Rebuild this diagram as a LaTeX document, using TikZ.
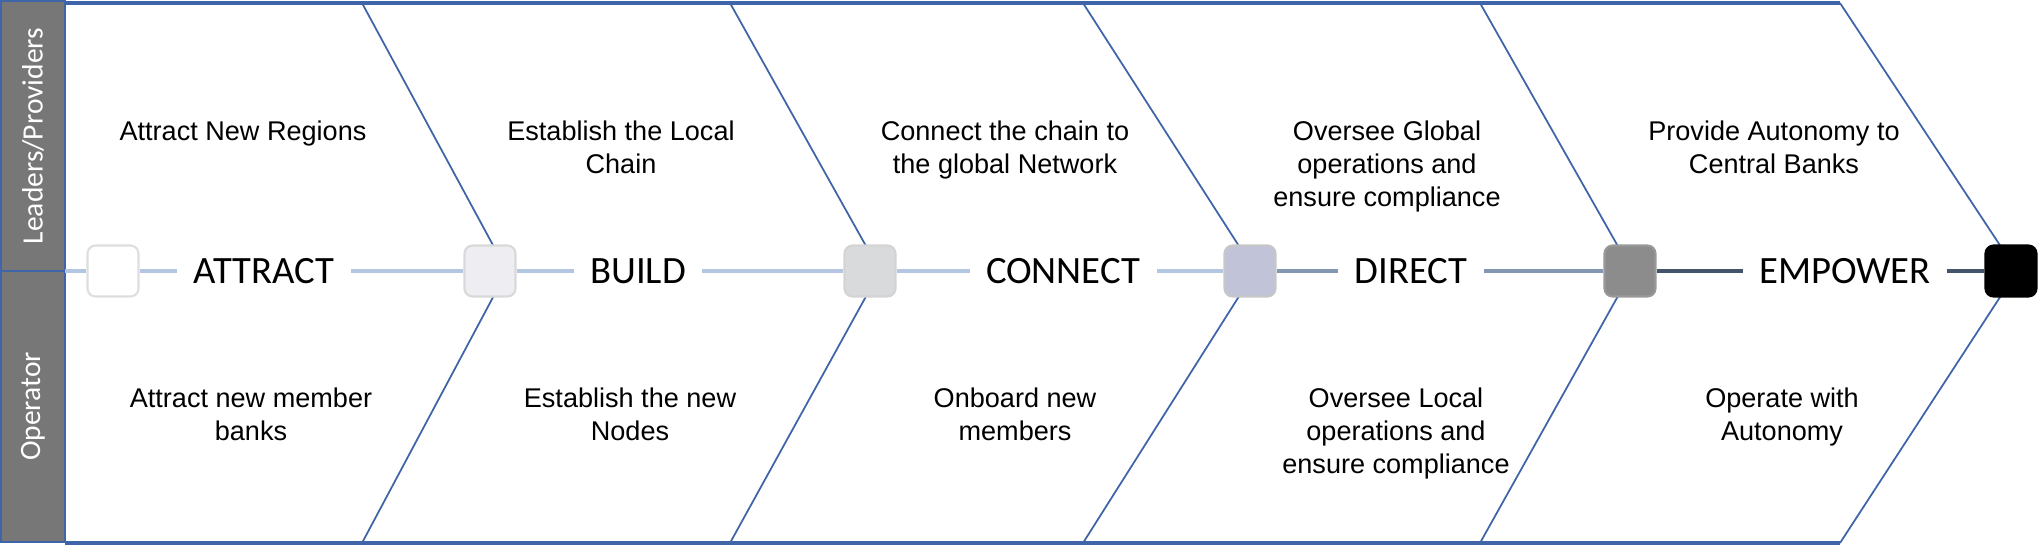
\documentclass[tikz,border=0pt]{standalone}
\usepackage{fontspec}
\setmainfont{Liberation Sans}
\newfontfamily\calibrifont{Carlito}
\definecolor{edgeblue}{HTML}{3F64A8}
\definecolor{lanegray}{HTML}{777777}
\definecolor{linklight}{HTML}{B4C6E2}
\definecolor{linkmid}{HTML}{8497B0}
\definecolor{linkdark}{HTML}{44546A}

\begin{document}
\begin{tikzpicture}[x=0.01cm, y=-0.01cm]
    \tikzstyle{lane} = [draw=edgeblue, fill=lanegray, line width=0.6pt, text=white, inner sep=0pt, font=\calibrifont\fontsize{8.4}{10}\selectfont];
    \tikzstyle{chev} = [draw=edgeblue, line width=0.5pt];
    \tikzstyle{milestone} = [rectangle, rounded corners=2.3pt, minimum size=0.51cm, line width=0.6pt];
    \tikzstyle{stage} = [inner xsep=4.5pt, inner ysep=0pt, font=\calibrifont\fontsize{11}{13}\selectfont];
    \tikzstyle{task} = [align=center, anchor=north, inner sep=0pt, font=\fontsize{7.7}{9.4}\selectfont];
    \tikzstyle{link} = [line width=1pt];

    \useasboundingbox (0,0) rectangle (2038,553);

    % side lanes
    \node[lane, rotate=90, minimum width=2.70cm, minimum height=0.64cm] (lead) at (33,136) {Leaders/Providers};
    \node[lane, rotate=90, minimum width=2.71cm, minimum height=0.64cm] (oper) at (33,406.5) {Operator};
    \coordinate (entry) at (65,271);

    % chevrons
    \draw[chev, line width=0.9pt] (65,3) -- (1840,3);
    \draw[chev, line width=0.9pt] (65,543) -- (1840,543);
    \foreach \n/\t in {362/507, 730/880, 1083/1255, 1480/1632, 1840/2017}
        \draw[chev] (\n,3) -- (\t,271) -- (\n,543);

    % milestones
    \node[milestone, fill=white, draw=black!13] (m1) at (113,271) {};
    \node[milestone, fill={rgb,255:red,237;green,237;blue,242}, draw=black!15] (m2) at (490,271) {};
    \node[milestone, fill={rgb,255:red,216;green,218;blue,219}, draw=black!17] (m3) at (870,271) {};
    \node[milestone, fill={rgb,255:red,193;green,196;blue,216}, draw=black!22] (m4) at (1250,271) {};
    \node[milestone, fill={rgb,255:red,140;green,140;blue,140}, draw=black!40] (m5) at (1630,271) {};
    \node[milestone, fill=black, draw=black] (m6) at (2011,271) {};

    % stages
    \node[stage] (s1) at (264,271) {ATTRACT};
    \node[stage] (s2) at (638,271) {BUILD};
    \node[stage] (s3) at (1063,271) {CONNECT};
    \node[stage] (s4) at (1411,271) {DIRECT};
    \node[stage] (s5) at (1845,271) {EMPOWER};

    \draw[link, linklight] (entry) -- (m1);
    \draw[link, linklight] (m1) -- (s1);
    \draw[link, linklight] (s1) -- (m2);
    \draw[link, linklight] (m2) -- (s2);
    \draw[link, linklight] (s2) -- (m3);
    \draw[link, linklight] (m3) -- (s3);
    \draw[link, linklight] (s3) -- (m4);
    \draw[link, linkmid] (m4) -- (s4);
    \draw[link, linkmid] (s4) -- (m5);
    \draw[link, linkdark] (m5) -- (s5);
    \draw[link, linkdark] (s5) -- (m6);

    % leaders / providers
    \node[task] (t1) at (243,120) {Attract New Regions};
    \node[task] (t2) at (621,120) {Establish the Local\\Chain};
    \node[task] (t3) at (1005,120) {Connect the chain to\\the global Network};
    \node[task] (t4) at (1387,120) {Oversee Global\\operations and\\ensure compliance};
    \node[task] (t5) at (1774,120) {Provide Autonomy to\\Central Banks};

    % operator
    \node[task] (u1) at (251,387) {Attract new member\\banks};
    \node[task] (u2) at (630,387) {Establish the new\\Nodes};
    \node[task] (u3) at (1015,387) {Onboard new\\members};
    \node[task] (u4) at (1396,387) {Oversee Local\\operations and\\ensure compliance};
    \node[task] (u5) at (1782,387) {Operate with\\Autonomy};
\end{tikzpicture}
\end{document}
